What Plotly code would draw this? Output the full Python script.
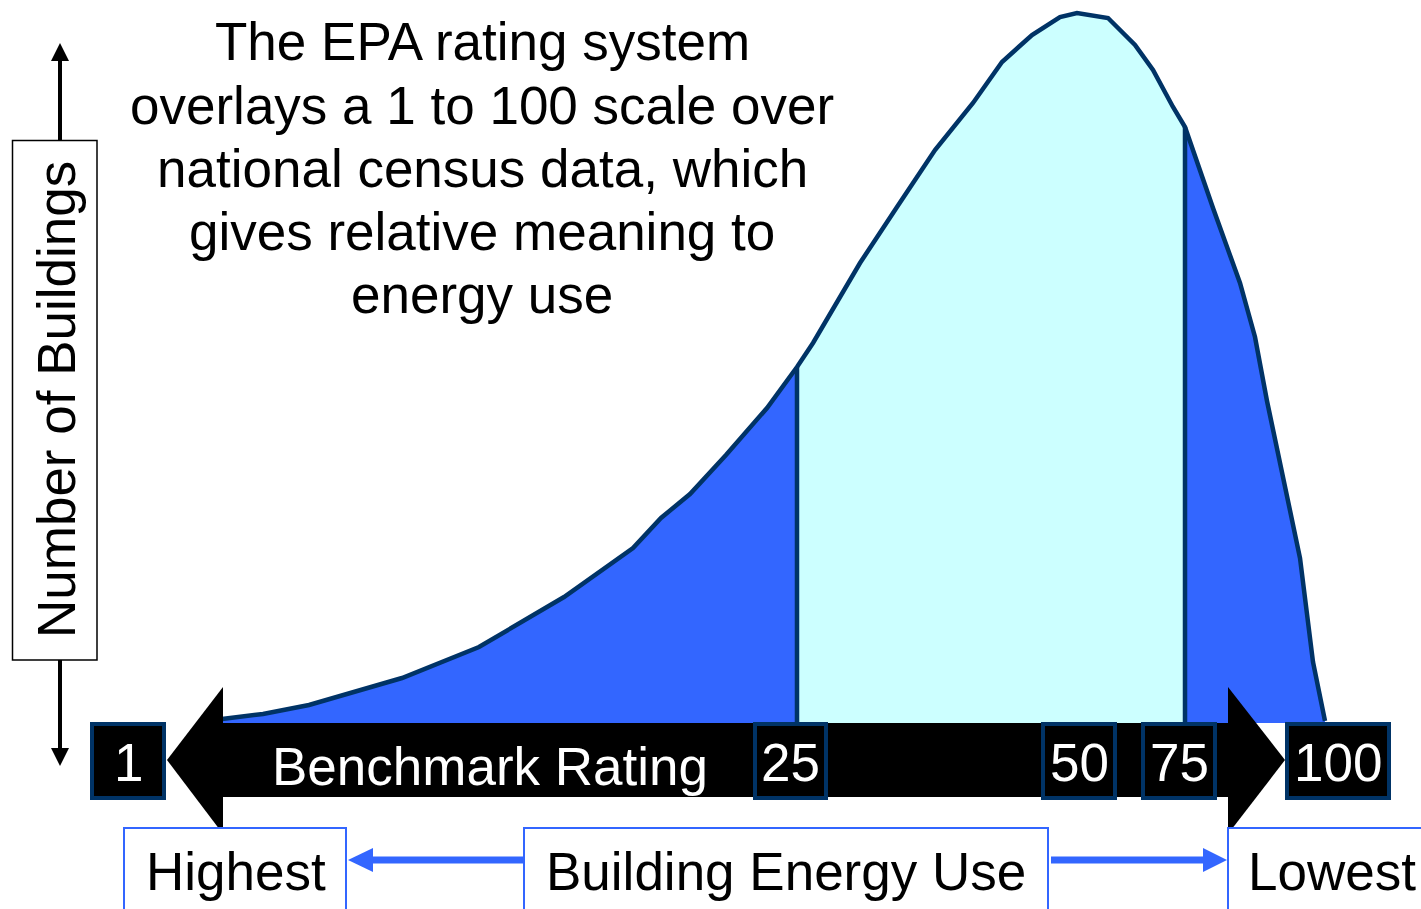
import plotly.graph_objects as go

# ---- data -------------------------------------------------------------
# Distribution of buildings along the benchmark axis (x) and relative
# number of buildings above the axis (height).
curve_x = [222, 263, 309, 402, 479, 564, 633, 661, 690, 726, 767, 797, 813,
           860, 897, 935, 973, 1002, 1032, 1060, 1077, 1108, 1135, 1153,
           1173, 1185, 1213, 1240, 1255, 1267, 1300, 1313, 1325]
curve_n = [4, 9, 18, 45, 76, 126, 175, 205, 229, 268, 315, 356, 380,
           460, 516, 573, 620, 661, 688, 706, 710, 705, 678, 653,
           616, 596, 515, 440, 386, 322, 165, 61, 2]

q25_x = 797    # boundary of the 25th rating
q75_x = 1185   # boundary of the 75th rating

rating_labels = ["1", "25", "50", "75", "100"]

title_lines = ["The EPA rating system",
               "overlays a 1 to 100 scale over",
               "national census data, which",
               "gives relative meaning to",
               "energy use"]

axis_label = "Benchmark Rating"
y_label = "Number of Buildings"
bottom_labels = ["Highest", "Building Energy Use", "Lowest"]

# ---- styles -----------------------------------------------------------
NAVY = "#003366"
BLUE = "#3366FF"
CYAN = "#CCFFFF"
FONT = "Liberation Sans, Arial, Helvetica, sans-serif"
FS = 53


def Y(p):
    """page pixel row -> y value (0 at the top of the rating bar)"""
    return 723 - p


fig = go.Figure()


def segment(lo, hi):
    xs = [x for x in curve_x if lo <= x <= hi]
    ns = [n for x, n in zip(curve_x, curve_n) if lo <= x <= hi]
    return [xs[0]] + xs + [xs[-1]], [0] + ns + [0]


for (lo, hi), col in [((0, q25_x), BLUE), ((q25_x, q75_x), CYAN),
                      ((q75_x, 2000), BLUE)]:
    sx, sy = segment(lo, hi)
    fig.add_trace(go.Scatter(x=sx, y=sy, mode="lines", fill="toself",
                             fillcolor=col, line=dict(width=0, color=col),
                             hoverinfo="skip"))

# outline of the distribution
fig.add_trace(go.Scatter(x=curve_x, y=curve_n, mode="lines",
                         line=dict(color=NAVY, width=4.5), hoverinfo="skip"))
# divider lines
for q in (q25_x, q75_x):
    h = curve_n[curve_x.index(q)]
    fig.add_trace(go.Scatter(x=[q, q], y=[0, h], mode="lines",
                             line=dict(color=NAVY, width=4.5),
                             hoverinfo="skip"))

shapes = []
# black double arrow (rating bar)
shapes.append(dict(type="rect", x0=221, x1=1230, y0=Y(797), y1=Y(723),
                   fillcolor="black", line=dict(width=0)))
shapes.append(dict(type="path",
                   path=f"M 167,{Y(760)} L 223,{Y(687)} L 223,{Y(834)} Z",
                   fillcolor="black", line=dict(width=0)))
shapes.append(dict(type="path",
                   path=f"M 1285,{Y(760)} L 1228,{Y(687)} L 1228,{Y(834)} Z",
                   fillcolor="black", line=dict(width=0)))

# rating boxes
box_x = [(90, 166), (753, 828), (1041, 1117), (1141, 1217), (1285, 1391)]
annotations = []
for lab, (x0, x1) in zip(rating_labels, box_x):
    shapes.append(dict(type="rect", x0=x0 + 2, x1=x1 - 2, y0=Y(798),
                       y1=Y(724), fillcolor="black",
                       line=dict(color=NAVY, width=4)))
    annotations.append(dict(x=(x0 + x1) / 2, y=Y(762.5), text=lab,
                            showarrow=False, xanchor="center",
                            yanchor="middle",
                            font=dict(family=FONT, size=FS, color="white")))

annotations.append(dict(x=490, y=Y(766.5), text=axis_label, showarrow=False,
                        xanchor="center", yanchor="middle",
                        font=dict(family=FONT, size=FS, color="white")))

# title lines
for line, base in zip(title_lines, [60, 123.5, 187, 250, 313]):
    annotations.append(dict(x=482, y=Y(base - 18.5), text=line,
                            showarrow=False, xanchor="center",
                            yanchor="middle",
                            font=dict(family=FONT, size=FS, color="black")))

# y label with arrows
shapes.append(dict(type="line", x0=60, x1=60, y0=Y(140), y1=Y(58),
                   line=dict(color="black", width=4)))
shapes.append(dict(type="path",
                   path=f"M 60,{Y(43)} L 51,{Y(61)} L 69,{Y(61)} Z",
                   fillcolor="black", line=dict(width=0)))
shapes.append(dict(type="line", x0=60, x1=60, y0=Y(660), y1=Y(750),
                   line=dict(color="black", width=4)))
shapes.append(dict(type="path",
                   path=f"M 60,{Y(766)} L 51,{Y(748)} L 69,{Y(748)} Z",
                   fillcolor="black", line=dict(width=0)))
shapes.append(dict(type="rect", x0=12.5, x1=97, y0=Y(660), y1=Y(140.5),
                   fillcolor="white", line=dict(color="black", width=1.5)))
annotations.append(dict(x=56, y=Y(400), text=y_label, showarrow=False,
                        textangle=-90, xanchor="center", yanchor="middle",
                        font=dict(family=FONT, size=FS, color="black")))

# bottom boxes and arrows
bottom_boxes = [(124, 346), (524, 1048), (1228, 1440)]
bottom_text_x = [236, 786, 1332]
for lab, (x0, x1), tx in zip(bottom_labels, bottom_boxes, bottom_text_x):
    shapes.append(dict(type="rect", x0=x0, x1=x1, y0=Y(930), y1=Y(828),
                       fillcolor="white", line=dict(color=BLUE, width=2)))
    annotations.append(dict(x=tx, y=Y(871.5), text=lab, showarrow=False,
                            xanchor="center", yanchor="middle",
                            font=dict(family=FONT, size=FS, color="black")))

shapes.append(dict(type="line", x0=370, x1=523, y0=Y(860), y1=Y(860),
                   line=dict(color=BLUE, width=7)))
shapes.append(dict(type="path",
                   path=f"M 348,{Y(860)} L 373,{Y(848)} L 373,{Y(872)} Z",
                   fillcolor=BLUE, line=dict(width=0)))
shapes.append(dict(type="line", x0=1051, x1=1205, y0=Y(860), y1=Y(860),
                   line=dict(color=BLUE, width=7)))
shapes.append(dict(type="path",
                   path=f"M 1227,{Y(860)} L 1203,{Y(848)} L 1203,{Y(872)} Z",
                   fillcolor=BLUE, line=dict(width=0)))

fig.update_layout(
    width=1421, height=909,
    margin=dict(l=0, r=0, t=0, b=0),
    paper_bgcolor="white", plot_bgcolor="white",
    showlegend=False,
    xaxis=dict(range=[0, 1421], visible=False, fixedrange=True),
    yaxis=dict(range=[Y(909), Y(0)], visible=False, fixedrange=True),
    shapes=shapes,
    annotations=annotations,
)

fig.write_html("out.html", config={"displayModeBar": False},
               post_script="document.body.style.margin='0';"
                           "document.body.style.overflow='hidden';")
